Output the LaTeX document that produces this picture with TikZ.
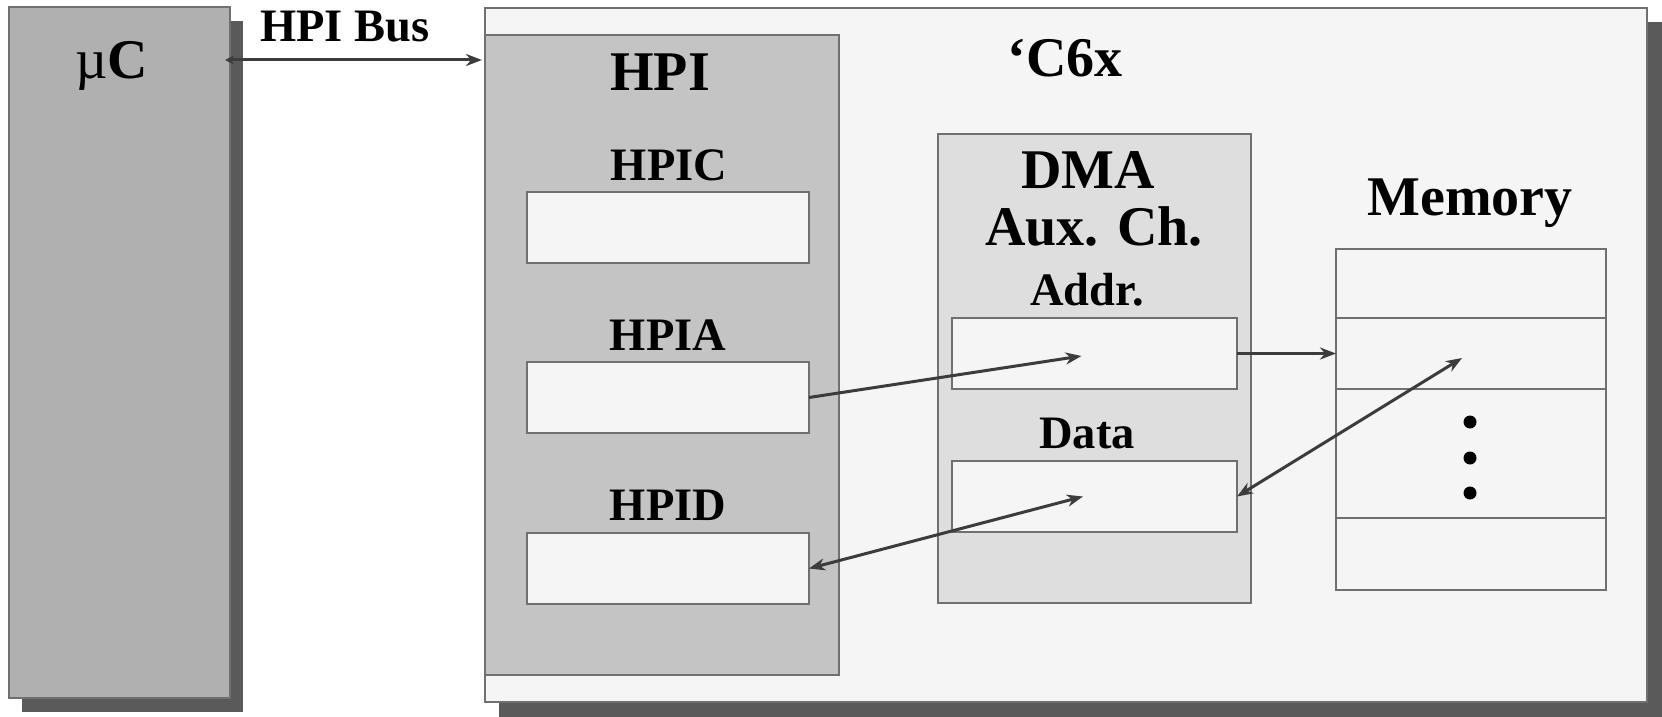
\documentclass[tikz,border=0pt]{standalone}
\usepackage{fontspec}
\setmainfont{Liberation Serif}
\usetikzlibrary{arrows.meta}
\definecolor{edgegray}{HTML}{707070}
\definecolor{shadowgray}{HTML}{5A5A5A}
\definecolor{ucfill}{HTML}{B0B0B0}
\definecolor{chipfill}{HTML}{F5F5F5}
\definecolor{hpifill}{HTML}{C4C4C4}
\definecolor{dmafill}{HTML}{DEDEDE}
\definecolor{arrowgray}{HTML}{3C3C3C}
\newcommand{\bigtxt}{\fontsize{56}{60}\selectfont\bfseries}
\newcommand{\smalltxt}{\fontsize{46.5}{50}\selectfont\bfseries}
\begin{document}
\begin{tikzpicture}[x=1pt,y=-1pt,
  block/.style={draw=edgegray, line width=2pt, inner sep=0pt, outer sep=0pt, rectangle},
  shadowbox/.style={fill=shadowgray, inner sep=0pt, outer sep=0pt, rectangle},
  regbox/.style={block, fill=chipfill, minimum width=282pt, minimum height=71pt},
  dmareg/.style={block, fill=chipfill, minimum width=285pt, minimum height=71pt},
  memrow/.style={block, fill=chipfill, minimum width=270pt},
  label/.style={inner sep=0pt, anchor=base},
  arr/.style={draw=arrowgray, line width=3pt, -{Stealth[length=16pt,width=12pt,inset=5pt]}},
  darr/.style={draw=arrowgray, line width=3pt, {Stealth[length=16pt,width=12pt,inset=5pt]}-{Stealth[length=16pt,width=12pt,inset=5pt]}},
  memdot/.style={circle, fill=black, inner sep=0pt, minimum size=13pt}
]
\useasboundingbox (0,0) rectangle (1662,717);

% host microcontroller
\node[shadowbox, minimum width=221pt, minimum height=691pt] (ucshadow) at (132.5,366.5) {};
\node[block, fill=ucfill, minimum width=221pt, minimum height=691pt] (uc) at (119.5,352.5) {};
\node[label] (uctext) at (112,78) {\fontsize{56}{60}\selectfont\textmu\bfseries C};

% the DSP
\node[shadowbox, minimum width=1163pt, minimum height=695pt] (c6xshadow) at (1080.5,369.5) {};
\node[block, fill=chipfill, minimum width=1162pt, minimum height=694pt] (c6x) at (1066,355) {};
\node[label] (c6xtext) at (1065,77) {\bigtxt `C6x};

% host port interface
\node[block, fill=hpifill, minimum width=354pt, minimum height=640pt] (hpi) at (662,355) {};
\node[label] (hpitext) at (660,90) {\bigtxt HPI};
\node[label] (hpictext) at (669,180) {\smalltxt HPIC};
\node[regbox] (hpic) at (668,227.5) {};
\node[label] (hpiatext) at (668,350) {\smalltxt HPIA};
\node[regbox] (hpia) at (668,397.5) {};
\node[label] (hpidtext) at (668,520) {\smalltxt HPID};
\node[regbox] (hpid) at (668,568.5) {};

% DMA auxiliary channel
\node[block, fill=dmafill, minimum width=313pt, minimum height=469pt] (dma) at (1094.5,368.5) {};
\node[label] (dmatext) at (1088,188) {\bigtxt DMA};
\node[label] (auxtext) at (1094,245) {\bigtxt Aux. Ch.};
\node[label] (addrtext) at (1087,305) {\smalltxt Addr.};
\node[dmareg] (addr) at (1094.5,353.5) {};
\node[label] (datatext) at (1087,448) {\smalltxt Data};
\node[dmareg] (data) at (1094.5,496.5) {};

% memory
\node[label] (memtext) at (1470,215) {\bigtxt Memory};
\node[memrow, minimum height=69pt] (row1) at (1471,283.5) {};
\node[memrow, minimum height=71pt] (row2) at (1471,353.5) {};
\node[memrow, minimum height=129pt] (row3) at (1471,453.5) {};
\node[memrow, minimum height=72pt] (row4) at (1471,554) {};
\node[memdot] (dot1) at (1470,422) {};
\node[memdot] (dot2) at (1470,458) {};
\node[memdot] (dot3) at (1470,493) {};

% bus and transfers
\node[label] (bustext) at (345,42) {\smalltxt HPI Bus};
\draw[draw=arrowgray, line width=3pt, {Stealth[length=9pt,width=9pt,inset=3pt]}-{Stealth[length=16pt,width=12pt,inset=5pt]}]
  ([xshift=-5pt,yshift=-53pt]uc.north east) -- ([xshift=-3pt,yshift=-52pt]c6x.north west);
\draw[arr] (hpia.east) -- ([xshift=-13pt,yshift=-2.5pt]addr.center);
\draw[darr] (hpid.east) -- ([xshift=-11.5pt]data.center);
\draw[arr] (addr.east) -- (row2.west);
\draw[darr] (data.east) -- ([xshift=-9pt,yshift=-4.5pt]row2.center);
\end{tikzpicture}
\end{document}
